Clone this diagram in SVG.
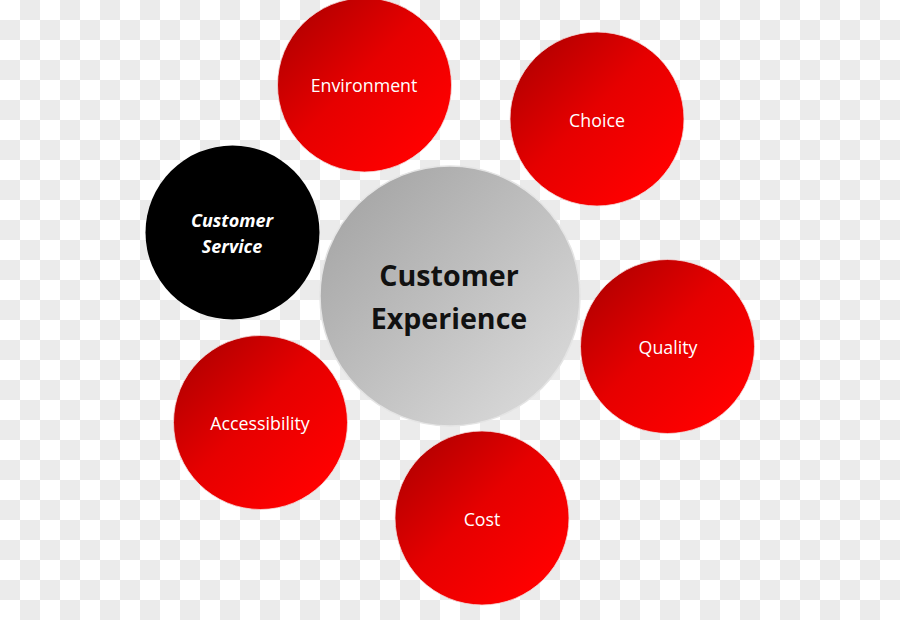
<svg xmlns="http://www.w3.org/2000/svg" width="900" height="620" viewBox="0 0 900 620">
  <defs>
    <pattern id="checker" x="0" y="0" width="40" height="40" patternUnits="userSpaceOnUse">
      <rect width="40" height="40" fill="#ffffff"/>
      <rect x="20" y="0" width="20" height="20" fill="#ebebeb"/>
      <rect x="0" y="20" width="20" height="20" fill="#ebebeb"/>
    </pattern>
    <linearGradient id="red" x1="0.15" y1="0.15" x2="0.85" y2="0.85">
      <stop offset="0" stop-color="#ba0000"/>
      <stop offset="0.45" stop-color="#e60000"/>
      <stop offset="1" stop-color="#ff0000"/>
    </linearGradient>
    <linearGradient id="grey" x1="0.15" y1="0.15" x2="0.85" y2="0.85">
      <stop offset="0" stop-color="#a9a9a9"/>
      <stop offset="1" stop-color="#d6d6d6"/>
    </linearGradient>
  </defs>
  <style>
    .red { fill: url(#red); stroke: #f4dada; stroke-width: 0.8; }
    .lbl { font-family: "Open Sans", "Liberation Sans", sans-serif; font-size: 17.8px; fill: #ffffff; text-anchor: middle; }
    .center-lbl { font-family: "Open Sans", "Liberation Sans", sans-serif; font-size: 28.6px; font-weight: bold; fill: #111111; text-anchor: middle; }
    .cs-lbl { font-family: "Open Sans", "Liberation Sans", sans-serif; font-size: 18px; font-weight: bold; font-style: italic; fill: #ffffff; text-anchor: middle; }
  </style>
  <rect width="900" height="620" fill="url(#checker)"/>
  <g id="connectors"></g>
  <g id="environment">
    <circle class="red" cx="364.5" cy="85" r="87"/>
    <text class="lbl" x="364" y="92">Environment</text>
  </g>
  <g id="choice">
    <circle class="red" cx="597" cy="119" r="87"/>
    <text class="lbl" x="597" y="126.5">Choice</text>
  </g>
  <g id="customer-service">
    <circle cx="232.5" cy="232.5" r="87" fill="#000000"/>
    <text class="cs-lbl" x="232" y="227">Customer</text>
    <text class="cs-lbl" x="232" y="253">Service</text>
  </g>
  <g id="customer-experience">
    <circle cx="450" cy="296" r="130" fill="url(#grey)" stroke="#e4e4e4" stroke-width="1.5"/>
    <text class="center-lbl" x="449" y="285.5">Customer</text>
    <text class="center-lbl" x="449" y="328.5">Experience</text>
  </g>
  <g id="quality">
    <circle class="red" cx="667.5" cy="346.5" r="87"/>
    <text class="lbl" x="668" y="354">Quality</text>
  </g>
  <g id="accessibility">
    <circle class="red" cx="260.5" cy="422.5" r="87"/>
    <text class="lbl" x="260" y="430">Accessibility</text>
  </g>
  <g id="cost">
    <circle class="red" cx="482" cy="518" r="87"/>
    <text class="lbl" x="482" y="525.5">Cost</text>
  </g>
</svg>
